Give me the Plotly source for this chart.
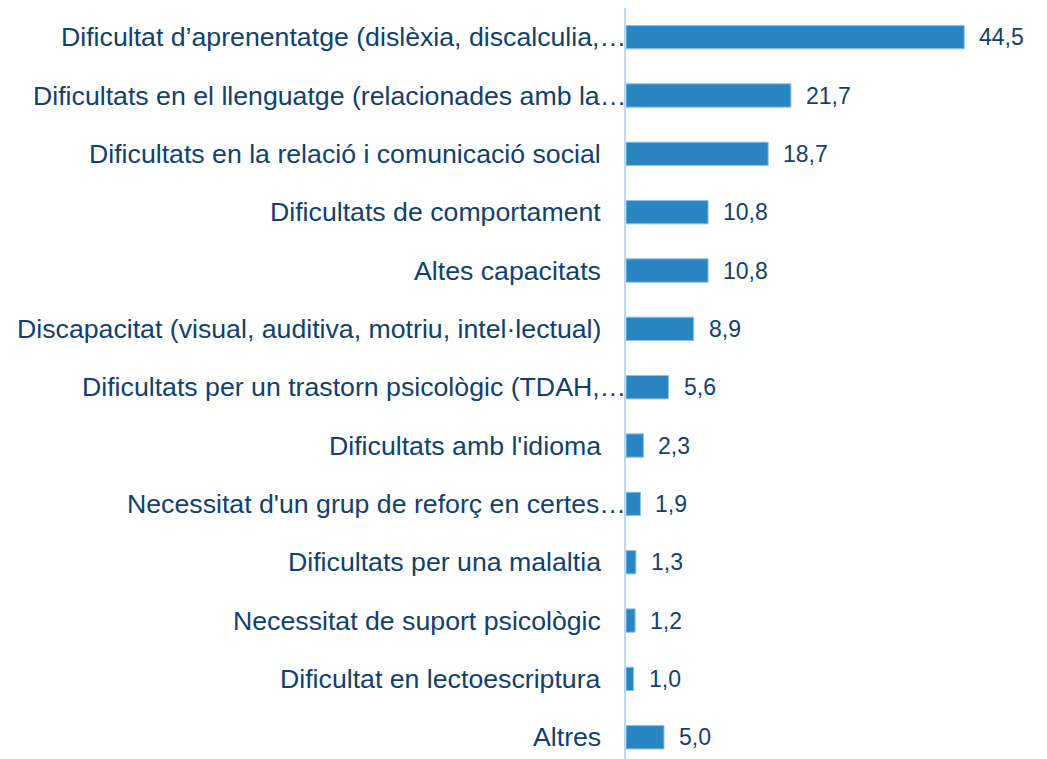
import plotly.graph_objects as go

# === Données ===
categories = [
    "Dificultat d\u2019aprenentatge (dislèxia, discalculia,\u2026",
    "Dificultats en el llenguatge (relacionades amb la\u2026",
    "Dificultats en la relació i comunicació social",
    "Dificultats de comportament",
    "Altes capacitats",
    "Discapacitat (visual, auditiva, motriu, intel·lectual)",
    "Dificultats per un trastorn psicològic (TDAH,\u2026",
    "Dificultats amb l'idioma",
    "Necessitat d'un grup de reforç en certes\u2026",
    "Dificultats per una malaltia",
    "Necessitat de suport psicològic",
    "Dificultat en lectoescriptura",
    "Altres",
]
values = [44.5, 21.7, 18.7, 10.8, 10.8, 8.9, 5.6, 2.3, 1.9, 1.3, 1.2, 1.0, 5.0]

text_color = "#10416E"
bar_color = "#2986C2"

fig = go.Figure(go.Bar(
    x=values,
    y=categories,
    orientation="h",
    marker=dict(color=bar_color, line=dict(color="#8EC0E4", width=1)),
    width=0.4,
))

# libellés des catégories (les tronqués débordent jusqu'à l'axe)
for cat in categories:
    fig.add_annotation(
        x=0, y=cat, xref="x", yref="y",
        text=cat, showarrow=False, xanchor="right",
        xshift=2 if cat.endswith("\u2026") else -23,
        font=dict(size=26.7, color=text_color),
    )

# valeurs
for cat, v in zip(categories, values):
    fig.add_annotation(
        x=v, y=cat, xref="x", yref="y",
        text=f"{v:.1f}".replace(".", ","), showarrow=False, xanchor="left",
        xshift=13,
        font=dict(size=23, color=text_color),
    )

fig.update_layout(
    width=1047,
    height=759,
    margin=dict(l=618, r=14, t=0, b=0),
    plot_bgcolor="white",
    paper_bgcolor="white",
    font=dict(family="Liberation Sans, Arial, sans-serif", color=text_color),
    showlegend=False,
    xaxis=dict(range=[0, 54.6], visible=False, fixedrange=True),
    yaxis=dict(
        categoryorder="array",
        categoryarray=categories,
        range=[12.51, -0.5],
        showticklabels=False,
        showgrid=False,
        zeroline=False,
        showline=True,
        linecolor="#BDD7EE",
        linewidth=2,
    ),
)

fig.write_html("out.html")
